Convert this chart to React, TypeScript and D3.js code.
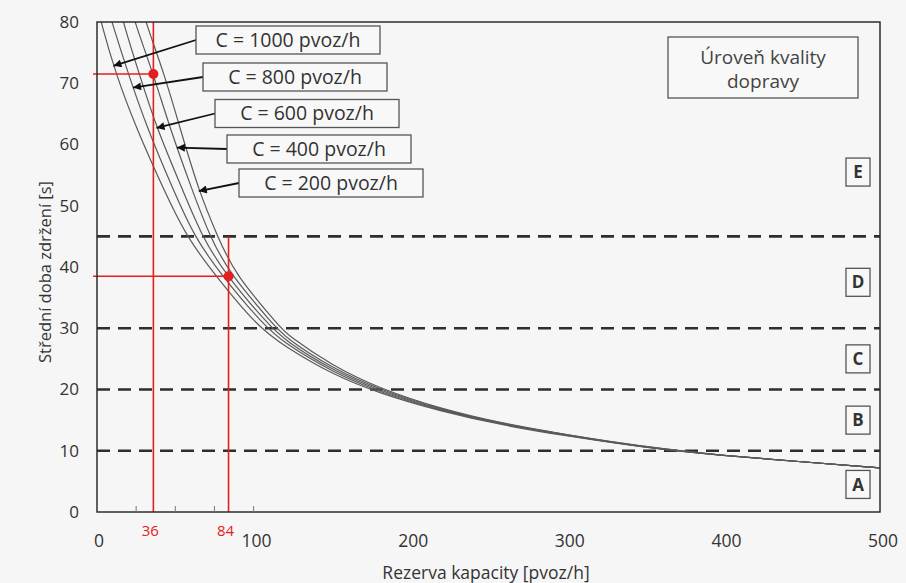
import React from 'react';
import * as d3 from 'd3';

// capacity curves: [reserve pvoz/h, mean delay s]
const capacities = [1000, 800, 600, 400, 200];

const curveC1000: [number, number][] = [
  [0, 83], [2.5, 80], [12, 71.5], [25, 62.7], [43, 52.4], [57, 45], [75, 38.8], [102, 30.4],
  [120, 27.0], [150, 22.5], [180, 19.4], [220, 16.4], [260, 14.1], [300, 12.4], [350, 10.5],
  [400, 9.2], [450, 8.2], [500, 7.2],
];
const curveC800: [number, number][] = [
  [5, 84], [9.5, 80], [20, 71.5], [32, 62.7], [49, 52.4], [62, 45], [79, 38.8], [106, 30.6],
  [120, 27.5], [150, 22.9], [180, 19.6], [220, 16.5], [260, 14.2], [300, 12.5], [350, 10.5],
  [400, 9.2], [450, 8.2], [500, 7.2],
];
const curveC600: [number, number][] = [
  [13, 84], [16.6, 80], [27, 71.5], [38, 62.7], [55, 52.4], [67, 45], [82, 38.8], [109, 30.7],
  [120, 28.0], [150, 23.2], [180, 19.8], [220, 16.6], [260, 14.3], [300, 12.5], [350, 10.5],
  [400, 9.2], [450, 8.2], [500, 7.2],
];
const curveC400: [number, number][] = [
  [20, 84], [24, 80], [36, 71.5], [46.5, 62.7], [61, 52.4], [72, 45], [85, 38.8], [112, 30.8],
  [120, 28.5], [150, 23.5], [180, 20.0], [220, 16.7], [260, 14.3], [300, 12.6], [350, 10.6],
  [400, 9.2], [450, 8.2], [500, 7.2],
];
const curveC200: [number, number][] = [
  [27, 84], [31, 80], [43, 71.5], [53, 62.7], [65, 52.4], [77, 45], [88, 38.8], [117, 30.2],
  [120, 29.2], [150, 23.9], [180, 20.2], [220, 16.8], [260, 14.4], [300, 12.6], [350, 10.6],
  [400, 9.2], [450, 8.2], [500, 7.2],
];
const curves = [curveC1000, curveC800, curveC600, curveC400, curveC200];

// where each label's arrow touches its curve (reserve)
const arrowTipReserve = [10.5, 23, 38, 51, 65];

// level of service
const losBounds = [10, 20, 30, 45];
const losLetters = ['A', 'B', 'C', 'D', 'E'];
const losLetterDelay = [4.5, 15, 25, 37.5, 55.5];

// worked example (red)
const exampleReserve = [36, 84];
const exampleDelay = [71.5, 38.5];
const exampleTopDelay = [80, 45];

const xTicks = [0, 100, 200, 300, 400, 500];
const xMinorTicks = [25, 50, 75, 100];
const yTicks = [0, 10, 20, 30, 40, 50, 60, 70, 80];

const W = 906;
const H = 583;
const FONT = '"Open Sans", "Noto Sans", sans-serif';
const INK = '#2e2e2e';
const RED = '#e3201c';

// label box layout (pixels)
const labelLeft = [196, 203, 215, 227, 239];
const labelMidY = [40, 77, 113.5, 149, 183];
const labelW = 184;
const labelH = 28;

const delayAt = (pts: [number, number][], r: number) => {
  for (let i = 0; i < pts.length - 1; i++) {
    const [r0, d0] = pts[i];
    const [r1, d1] = pts[i + 1];
    if (r >= r0 && r <= r1) return d0 + ((r - r0) / (r1 - r0)) * (d1 - d0);
  }
  return pts[pts.length - 1][1];
};

const App = () => {
  const x = d3.scaleLinear().domain([0, 500]).range([97, 880]);
  const y = d3.scaleLinear().domain([0, 80]).range([512, 22]);

  const line = d3.line<[number, number]>()
    .x(d => x(d[0]))
    .y(d => y(d[1]))
    .curve(d3.curveBasis);

  const [x0, x1] = x.range();
  const [yb, yt] = y.range();

  return (
    <svg width={W} height={H} style={{ position: 'absolute', left: 0, top: 0, display: 'block' }}>
      <defs>
        <clipPath id="plot">
          <rect x={x0} y={yt} width={x1 - x0} height={yb - yt} />
        </clipPath>
        <marker id="head" viewBox="0 0 10 10" refX="10" refY="5" markerWidth="14" markerHeight="8"
          markerUnits="userSpaceOnUse" orient="auto">
          <path d="M0,0L10,5L0,10z" fill="#111" />
        </marker>
      </defs>
      <rect width={W} height={H} fill="#f6f6f6" />

      {/* LOS boundaries */}
      {losBounds.map(b => (
        <line key={b} x1={x0} x2={x1} y1={y(b)} y2={y(b)} stroke={INK}
          strokeWidth={2.6} strokeDasharray="13 8" />
      ))}

      {/* capacity curves */}
      <g clipPath="url(#plot)">
        {curves.map((c, i) => (
          <path key={capacities[i]} d={line(c) ?? ''} fill="none" stroke="#5a5a5a" strokeWidth={1.2} />
        ))}
      </g>

      {/* red worked example */}
      {exampleReserve.map((r, i) => (
        <g key={r} stroke={RED} strokeWidth={1.6}>
          <line x1={x(r)} x2={x(r)} y1={y(exampleTopDelay[i])} y2={yb} />
          <line x1={x0 - 4} x2={x(r)} y1={y(exampleDelay[i])} y2={y(exampleDelay[i])} />
          <circle cx={x(r)} cy={y(exampleDelay[i])} r={5} fill={RED} stroke="none" />
        </g>
      ))}

      {/* frame */}
      <rect x={x0} y={yt} width={x1 - x0} height={yb - yt} fill="none" stroke={INK} strokeWidth={1.5} />

      {xMinorTicks.map(t => (
        <line key={t} x1={x(t)} x2={x(t)} y1={yb} y2={yb - 6} stroke="#777" strokeWidth={1} />
      ))}

      {/* axes text */}
      {yTicks.map(t => (
        <text key={t} x={79} y={y(t)} dy="0.35em" textAnchor="end" fontFamily={FONT}
          fontSize={17} fill="#333">{t}</text>
      ))}
      {xTicks.map(t => (
        <text key={t} x={x(t) + (t === 0 ? 2 : 3)} y={541} dy="0.35em" textAnchor="middle"
          fontFamily={FONT} fontSize={17.5} fill="#333">{t}</text>
      ))}
      {exampleReserve.map(r => (
        <text key={r} x={x(r) - 3} y={531} dy="0.35em" textAnchor="middle" fontFamily={FONT}
          fontSize={15} fill={RED}>{r}</text>
      ))}
      <text x={486} y={573} dy="0.35em" textAnchor="middle" fontFamily={FONT} fontSize={17.5}
        fill="#333">Rezerva kapacity [pvoz/h]</text>
      <text transform="translate(45,272) rotate(-90)" dy="0.35em" textAnchor="middle"
        fontFamily={FONT} fontSize={16.5} fill="#333">Střední doba zdržení [s]</text>

      {/* capacity labels with arrows */}
      {capacities.map((c, i) => {
        const tipR = arrowTipReserve[i];
        const tx = x(tipR);
        const ty = y(delayAt(curves[i], tipR));
        return (
          <g key={c}>
            <line x1={labelLeft[i]} y1={labelMidY[i]} x2={tx} y2={ty} stroke="#111"
              strokeWidth={1.8} markerEnd="url(#head)" />
            <rect x={labelLeft[i]} y={labelMidY[i] - labelH / 2} width={labelW} height={labelH}
              fill="#f8f8f8" stroke="#555" strokeWidth={1.3} />
            <text x={labelLeft[i] + labelW / 2} y={labelMidY[i]} dy="0.35em" textAnchor="middle"
              fontFamily={FONT} fontSize={19.5} fill="#333">C = {c} pvoz/h</text>
          </g>
        );
      })}

      {/* level-of-service legend */}
      <rect x={668} y={37} width={190} height={61} fill="#f8f8f8" stroke="#555" strokeWidth={1.3} />
      <text x={763} y={57} dy="0.35em" textAnchor="middle" fontFamily={FONT} fontSize={19}
        fill="#444">Úroveň kvality</text>
      <text x={763} y={81} dy="0.35em" textAnchor="middle" fontFamily={FONT} fontSize={19}
        fill="#444">dopravy</text>

      {losLetters.map((l, i) => (
        <g key={l}>
          <rect x={846} y={y(losLetterDelay[i]) - 14} width={24} height={28} fill="#f8f8f8"
            stroke="#555" strokeWidth={1.3} />
          <text x={858} y={y(losLetterDelay[i])} dy="0.36em" textAnchor="middle" fontFamily={FONT}
            fontSize={17} fontWeight={700} fill="#333">{l}</text>
        </g>
      ))}
    </svg>
  );
};

export default App;
